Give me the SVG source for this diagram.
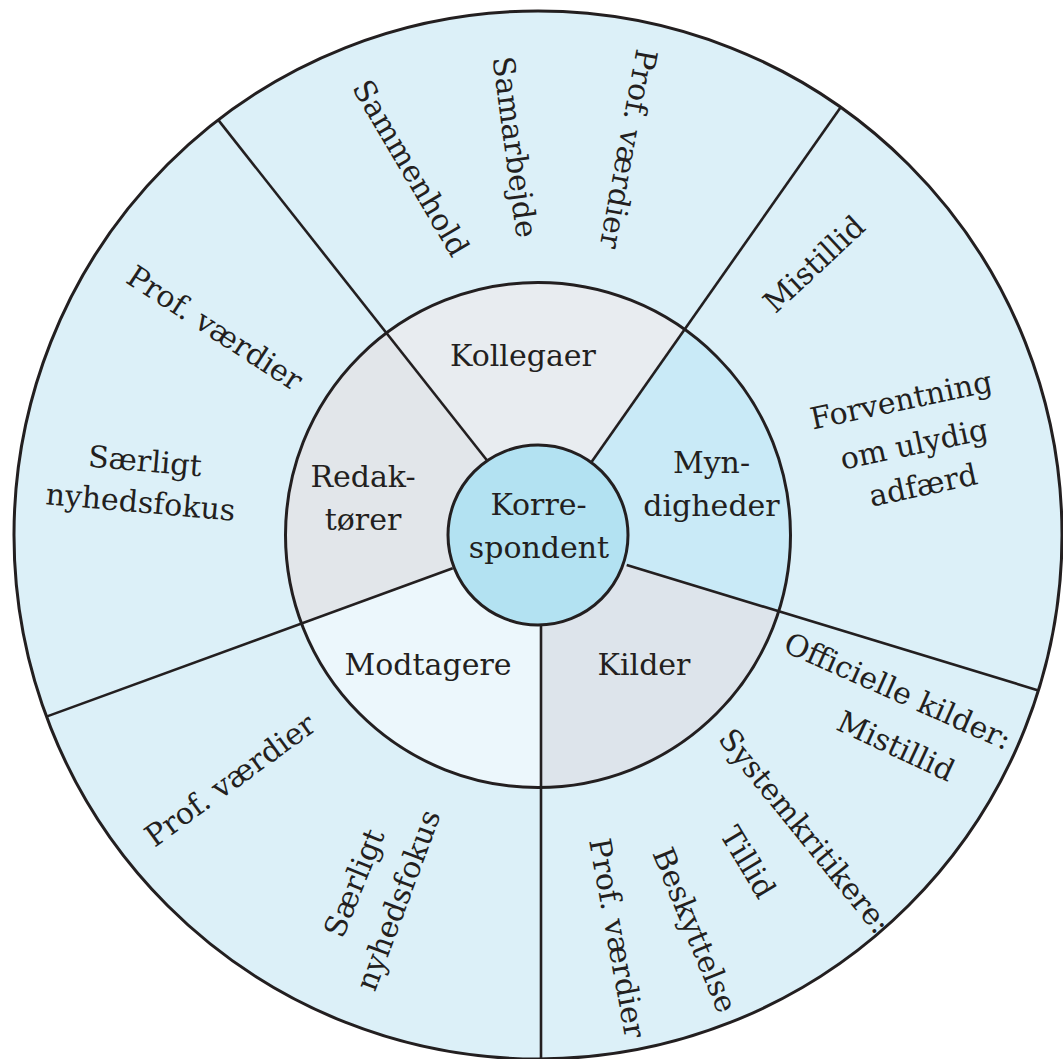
<svg xmlns="http://www.w3.org/2000/svg" width="1063" height="1059" viewBox="0 0 1063 1059">
<style>
.t{font-family:"DejaVu Serif","Liberation Serif",serif;font-size:30px;fill:#231f20;text-anchor:middle}
.r{dominant-baseline:central}
.ring{stroke:#231f20;stroke-width:3}
.div{stroke:#231f20;stroke-width:2.6;fill:none}
</style>
<defs>
<clipPath id="innerClip"><circle cx="538" cy="535" r="252.5"/></clipPath>
</defs>
<rect width="1063" height="1059" fill="#ffffff"/>
<g id="outer-ring">
<circle class="ring" cx="538" cy="535" r="524" fill="#dcf0f8"/>
</g>
<g clip-path="url(#innerClip)">
<g id="node-kollegaer"><path d="M538,535 L486.7,460 L218.2,119.9 L840.7,107.2 L591.7,461.7 Z" fill="#e8ecf0"/></g>
<g id="node-myndigheder"><path d="M538,535 L591.7,461.7 L840.7,107.2 L1038.4,690.4 L626.7,565 Z" fill="#c9eaf7"/></g>
<g id="node-kilder"><path d="M538,535 L626.7,565 L1038.4,690.4 L541,1059 L541,625 Z" fill="#dde4eb"/></g>
<g id="node-modtagere"><path d="M538,535 L541,625 L541,1059 L46.4,716.6 L452.7,568.3 Z" fill="#ecf7fc"/></g>
<g id="node-redaktorer"><path d="M538,535 L452.7,568.3 L46.4,716.6 L218.2,119.9 L486.7,460 Z" fill="#e2e6ea"/></g>
</g>
<circle class="ring" cx="538" cy="535" r="252.5" fill="none"/>
<g id="connectors">
<line class="div" x1="486.7" y1="460" x2="218.2" y2="119.9"/>
<line class="div" x1="591.7" y1="461.7" x2="840.7" y2="107.2"/>
<line class="div" x1="626.7" y1="565" x2="1038.4" y2="690.4"/>
<line class="div" x1="541" y1="625" x2="541" y2="1059"/>
<line class="div" x1="452.7" y1="568.3" x2="46.4" y2="716.6"/>
</g>
<g id="node-korrespondent">
<circle class="ring" cx="538" cy="535" r="90" fill="#b3e2f2"/>
<text class="t" x="538.5" y="515">Korre-</text>
<text class="t" x="539" y="558">spondent</text>
</g>
<g id="labels-inner">
<text class="t" x="523" y="366">Kollegaer</text>
<text class="t" x="363" y="487">Redak-</text>
<text class="t" x="363" y="530">tører</text>
<text class="t" x="711.5" y="473">Myn-</text>
<text class="t" x="711.5" y="516">digheder</text>
<text class="t" x="428" y="675">Modtagere</text>
<text class="t" x="644" y="675">Kilder</text>
</g>
<g id="labels-kollegaer">
<text class="t r" transform="translate(411,168) rotate(59.5)">Sammenhold</text>
<text class="t r" transform="translate(515,147) rotate(82.3)">Samarbejde</text>
<text class="t r" transform="translate(628.5,149) rotate(100.6)">Prof. værdier</text>
</g>
<g id="labels-redaktorer">
<text class="t r" transform="translate(215,328) rotate(33)">Prof. værdier</text>
<text class="t r" transform="translate(145,461) rotate(5)">Særligt</text>
<text class="t r" transform="translate(140.5,502) rotate(5)">nyhedsfokus</text>
</g>
<g id="labels-myndigheder">
<text class="t r" transform="translate(814,264) rotate(-43)">Mistillid</text>
<text class="t r" transform="translate(901,400) rotate(-12)">Forventning</text>
<text class="t r" transform="translate(914,444) rotate(-12)">om ulydig</text>
<text class="t r" transform="translate(923,485) rotate(-12)">adfærd</text>
</g>
<g id="labels-kilder">
<text class="t r" transform="translate(898,691) rotate(24)">Officielle kilder:</text>
<text class="t r" transform="translate(896,746) rotate(25)">Mistillid</text>
<text class="t r" transform="translate(805,831) rotate(51)">Systemkritikere:</text>
<text class="t r" transform="translate(748,862) rotate(59)">Tillid</text>
<text class="t r" transform="translate(695,930) rotate(67.7)">Beskyttelse</text>
<text class="t r" transform="translate(617.5,938) rotate(79.6)">Prof. værdier</text>
</g>
<g id="labels-modtagere">
<text class="t r" transform="translate(230,780) rotate(-36)">Prof. værdier</text>
<text class="t r" transform="translate(354,883) rotate(-68)">Særligt</text>
<text class="t r" transform="translate(398,900) rotate(-69.6)">nyhedsfokus</text>
</g>
</svg>
